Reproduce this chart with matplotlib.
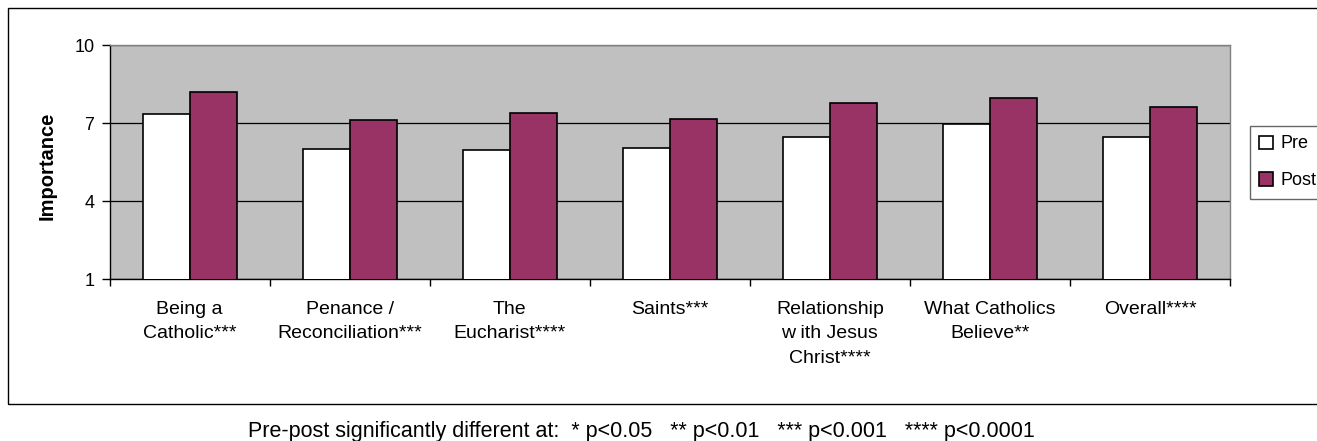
import matplotlib
matplotlib.use("Agg")
import matplotlib.pyplot as plt
import matplotlib.patches as patches
import numpy as np

categories = [
    "Being a\nCatholic***",
    "Penance /\nReconciliation***",
    "The\nEucharist****",
    "Saints***",
    "Relationship\nw ith Jesus\nChrist****",
    "What Catholics\nBelieve**",
    "Overall****",
]
pre = [7.33, 6.01, 5.96, 6.03, 6.45, 6.97, 6.45]
post = [8.19, 7.12, 7.38, 7.17, 7.76, 7.97, 7.62]
series_names = ["Pre", "Post"]
yticks = [1, 4, 7, 10]
footnote = "Pre-post significantly different at:  * p<0.05   ** p<0.01   *** p<0.001   **** p<0.0001"

plt.rcParams["font.family"] = ["Liberation Sans", "DejaVu Sans"]

W, H = 1317, 441
fig = plt.figure(figsize=(W / 100, H / 100), dpi=100)

# outer chart frame (runs past the right edge like the original)
frame = patches.Rectangle((8 / W, 1 - 404 / H), 1.2, (404 - 8) / H,
                          transform=fig.transFigure, fill=False,
                          edgecolor="black", linewidth=1.0, clip_on=False)
fig.patches.append(frame)

ax = fig.add_axes([109.7 / W, 1 - 279 / H, (1230 - 109.7) / W, (279 - 45) / H])
ax.set_facecolor("#C0C0C0")

x = np.arange(len(categories))
bw = 0.294
b1 = ax.bar(x - bw / 2, pre, bw, color="white", edgecolor="black",
            linewidth=1.2, label=series_names[0], zorder=3)
b2 = ax.bar(x + bw / 2, post, bw, color="#993366", edgecolor="black",
            linewidth=1.2, label=series_names[1], zorder=3)

ax.set_xlim(-0.5, len(categories) - 0.5)
ax.set_ylim(1, 10)
ax.set_yticks(yticks)
ax.set_yticklabels([str(v) for v in yticks], fontsize=13)
ax.yaxis.grid(True, color="black", linewidth=0.9, zorder=1)
ax.set_axisbelow(True)

ax.set_xticks(x)
ax.set_xticklabels(categories, fontsize=14, linespacing=1.55)
ax.set_xticks(np.arange(-0.5, len(categories)), minor=True)
ax.tick_params(axis="x", which="major", length=0, pad=16)
ax.tick_params(axis="x", which="minor", length=5, width=1, direction="out")
ax.tick_params(axis="y", length=6, width=1, direction="out", pad=5)

for s in ["left", "bottom"]:
    ax.spines[s].set_color("black")
    ax.spines[s].set_linewidth(1.0)
for s in ["top", "right"]:
    ax.spines[s].set_color("#808080")
    ax.spines[s].set_linewidth(1.0)

ax.set_ylabel("Importance", fontsize=14.5, fontweight="bold")
ax.yaxis.set_label_coords((47 - 109.7) / (1230 - 109.7), (279 - 166) / 234)
ax.yaxis.label.set_va("center")

leg = fig.legend(handles=[b1, b2], labels=series_names, loc="upper left",
                 bbox_to_anchor=(1249.5 / W, 1 - 125.5 / H), fontsize=13,
                 frameon=True, fancybox=False, edgecolor="#404040",
                 handlelength=0.75, handleheight=0.75, handletextpad=0.4,
                 borderpad=0.55, labelspacing=1.1, borderaxespad=0)
leg.get_frame().set_linewidth(1.0)

fig.text(641 / W, 1 - 437 / H, footnote, ha="center", va="baseline", fontsize=15.5)

fig.savefig("out.png", dpi=100)
